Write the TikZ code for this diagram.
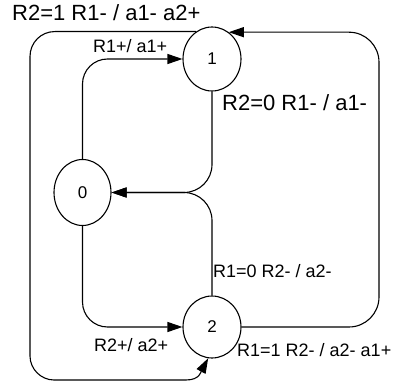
\documentclass[tikz,border=0pt]{standalone}
\usepackage{fontspec}
\setmainfont{Liberation Sans}
\usepackage{tikz}
\usetikzlibrary{arrows.meta, positioning, shapes.geometric}

\begin{document}
\begin{tikzpicture}[
    x=1pt, y=-1pt,
    state/.style={ellipse, draw, line width=1.1pt, inner sep=0pt, minimum width=58pt, minimum height=64pt, font=\fontsize{17}{17}\selectfont},
    tr/.style={-{Triangle[length=15pt, width=10pt]}, line width=1.1pt},
    small/.style={anchor=base west, inner sep=0pt, font=\fontsize{18}{18}\selectfont},
    big/.style={anchor=base west, inner sep=0pt, font=\fontsize{22}{22}\selectfont},
  ]
  \useasboundingbox (0,0) rectangle (397,385);
  \node[state] (s1) at (212,59) {1};
  \node[state, minimum width=57pt, minimum height=66pt] (s0) at (82.5,192.5) {0};
  \node[state, minimum height=62pt] (s2) at (212,327) {2};
  \coordinate (lft) at (30,380);
  \coordinate (tl) at (s1.120 -| lft);
  \coordinate (rgt) at (379,0);

  % Transitions
  \draw[tr, rounded corners=25pt] (s0.north) |- (s1.west);
  \draw[tr, rounded corners=25pt] (s0.south) |- (s2.west);
  \draw[tr, rounded corners=28pt] (s1.south) |- (s0.east);
  \draw[tr, rounded corners=28pt] (s2.north) |- (s0.east);
  \draw[tr, rounded corners=30pt] (s2.east) -| (s1.58 -| rgt) -- (s1.58);
  \draw[tr] (s1.120) -- ([xshift=25pt]tl)
    .. controls ([xshift=11pt]tl) and ([yshift=-11pt]tl) .. ([yshift=-25pt]tl)
    -- ([yshift=24pt]lft)
    .. controls ([yshift=11pt]lft) and ([xshift=11pt]lft) .. ([xshift=24pt]lft)
    -- ([xshift=-26pt]s2.south |- lft) .. controls +(14,0) and +(-7,13) .. (s2.-97);

  % Labels
  \node[big] (l10) at (12,21) {R2=1 R1- / a1- a2+};
  \node[small] (l01) at (93,53) {R1+/ a1+};
  \node[big] (l1z) at (222,111) {R2=0 R1- / a1-};
  \node[small] (l2z) at (213,278) {R1=0 R2- / a2-};
  \node[small] (l21) at (237,357) {R1=1 R2- / a2- a1+};
  \node[small] (l02) at (94,352) {R2+/ a2+};
\end{tikzpicture}
\end{document}
